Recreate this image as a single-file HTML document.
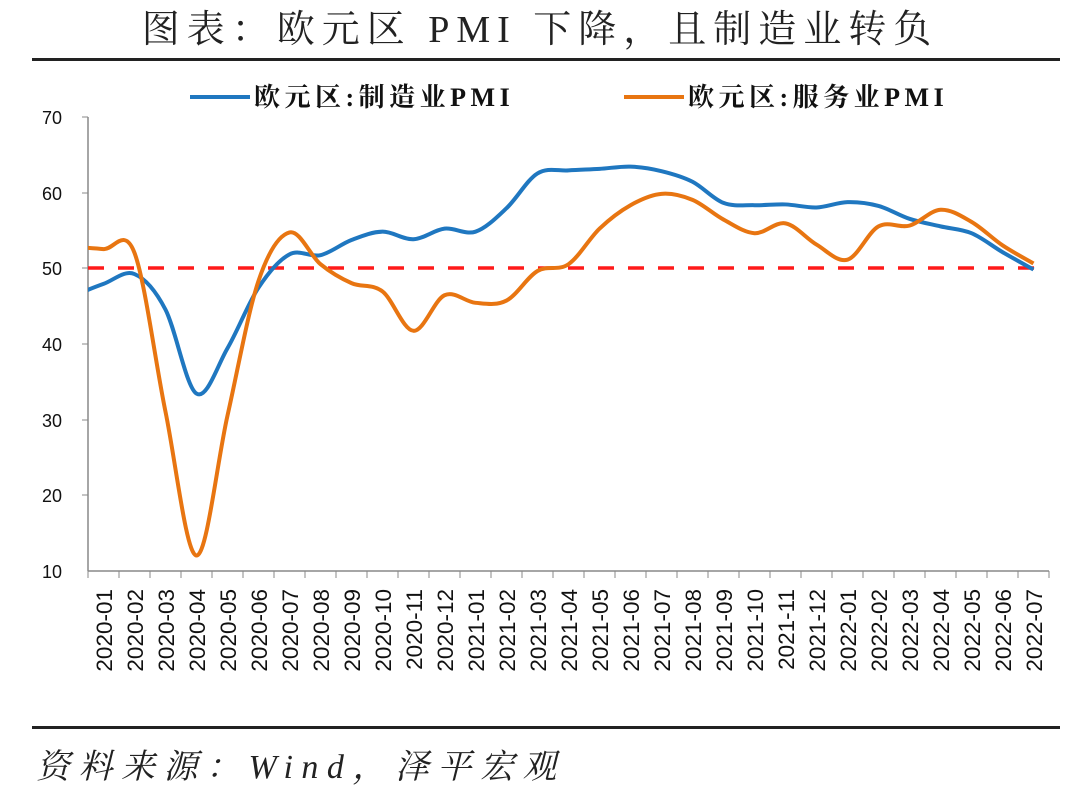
<!DOCTYPE html>
<html><head><meta charset="utf-8"><style>
body{margin:0;background:#fff;width:1080px;height:789px;overflow:hidden;}
svg{display:block}
</style></head><body>
<svg width="1080" height="789" xmlns="http://www.w3.org/2000/svg">
<text x="540" y="42" text-anchor="middle" font-family="Liberation Serif, Noto Serif CJK SC, serif" font-size="38" fill="#222" letter-spacing="7">图表：欧元区 PMI 下降，且制造业转负</text>
<rect x="32" y="58" width="1028" height="3" fill="#222"/>
<rect x="32" y="726" width="1028" height="3" fill="#222"/>
<text x="36" y="778" font-family="Liberation Serif, Noto Serif CJK SC, serif" font-size="34" font-style="italic" fill="#222" letter-spacing="8.5">资料来源：Wind，泽平宏观</text>
<line x1="190" y1="97" x2="250" y2="97" stroke="#1f77c0" stroke-width="4"/>
<text x="254" y="106" font-family="Liberation Serif, Noto Serif CJK SC, serif" font-weight="bold" font-size="26" fill="#111" letter-spacing="4.5">欧元区:制造业PMI</text>
<line x1="624" y1="97" x2="684" y2="97" stroke="#e87511" stroke-width="4"/>
<text x="688" y="106" font-family="Liberation Serif, Noto Serif CJK SC, serif" font-weight="bold" font-size="26" fill="#111" letter-spacing="4.5">欧元区:服务业PMI</text>
<g font-family="Liberation Sans, sans-serif" font-size="18" fill="#111" text-anchor="end">
<text x="62" y="124">70</text><text x="62" y="200">60</text><text x="62" y="275">50</text><text x="62" y="351">40</text><text x="62" y="427">30</text><text x="62" y="502">20</text><text x="62" y="578">10</text>
</g>
<line x1="88" y1="117" x2="88" y2="571" stroke="#888" stroke-width="1.5"/>
<line x1="82" y1="117" x2="88" y2="117" stroke="#888"/>
<line x1="82" y1="193" x2="88" y2="193" stroke="#888"/>
<line x1="82" y1="268" x2="88" y2="268" stroke="#888"/>
<line x1="82" y1="344" x2="88" y2="344" stroke="#888"/>
<line x1="82" y1="420" x2="88" y2="420" stroke="#888"/>
<line x1="82" y1="495" x2="88" y2="495" stroke="#888"/>
<line x1="88" y1="571" x2="1049" y2="571" stroke="#888" stroke-width="1.5"/>
<g id="ticks" stroke="#888"></g>
<g id="labels" font-family="Liberation Sans, sans-serif" font-size="22.5" fill="#111" text-anchor="end">
<text transform="translate(112,589) rotate(-90)">2020-01</text>
<text transform="translate(143,589) rotate(-90)">2020-02</text>
<text transform="translate(174,589) rotate(-90)">2020-03</text>
<text transform="translate(205,589) rotate(-90)">2020-04</text>
<text transform="translate(236,589) rotate(-90)">2020-05</text>
<text transform="translate(267,589) rotate(-90)">2020-06</text>
<text transform="translate(298,589) rotate(-90)">2020-07</text>
<text transform="translate(329,589) rotate(-90)">2020-08</text>
<text transform="translate(360,589) rotate(-90)">2020-09</text>
<text transform="translate(391,589) rotate(-90)">2020-10</text>
<text transform="translate(422,589) rotate(-90)">2020-11</text>
<text transform="translate(453,589) rotate(-90)">2020-12</text>
<text transform="translate(484,589) rotate(-90)">2021-01</text>
<text transform="translate(515,589) rotate(-90)">2021-02</text>
<text transform="translate(546,589) rotate(-90)">2021-03</text>
<text transform="translate(577,589) rotate(-90)">2021-04</text>
<text transform="translate(608,589) rotate(-90)">2021-05</text>
<text transform="translate(639,589) rotate(-90)">2021-06</text>
<text transform="translate(670,589) rotate(-90)">2021-07</text>
<text transform="translate(701,589) rotate(-90)">2021-08</text>
<text transform="translate(732,589) rotate(-90)">2021-09</text>
<text transform="translate(763,589) rotate(-90)">2021-10</text>
<text transform="translate(794,589) rotate(-90)">2021-11</text>
<text transform="translate(825,589) rotate(-90)">2021-12</text>
<text transform="translate(856,589) rotate(-90)">2022-01</text>
<text transform="translate(887,589) rotate(-90)">2022-02</text>
<text transform="translate(918,589) rotate(-90)">2022-03</text>
<text transform="translate(949,589) rotate(-90)">2022-04</text>
<text transform="translate(980,589) rotate(-90)">2022-05</text>
<text transform="translate(1011,589) rotate(-90)">2022-06</text>
<text transform="translate(1042,589) rotate(-90)">2022-07</text>
</g>
<defs><clipPath id="c"><rect x="88" y="100" width="970" height="480"/></clipPath></defs>
<line x1="88" y1="268" x2="1036" y2="268" stroke="#ff1a1a" stroke-width="3.5" stroke-dasharray="16,14"/>
<g clip-path="url(#c)">
<path id="mfg" fill="none" stroke="#1f77c0" stroke-width="4" stroke-linejoin="round"/>
<path id="svc" fill="none" stroke="#e87511" stroke-width="4" stroke-linejoin="round"/>
</g>
</svg>
<script>
var t=document.getElementById('ticks'),s='';
for(var i=0;i<=31;i++){var x=88+31*i;s+='<line x1="'+x+'" y1="571" x2="'+x+'" y2="578"/>';}
t.innerHTML=s;
var mfg=[46.3,47.9,49.2,44.5,33.4,39.4,47.4,51.8,51.7,53.7,54.8,53.8,55.2,54.8,57.9,62.5,62.9,63.1,63.4,62.8,61.4,58.6,58.3,58.4,58.0,58.7,58.2,56.5,55.5,54.6,52.1,49.8];
var svc=[52.8,52.5,52.0,31.0,12.0,30.5,48.3,54.7,50.5,48.0,46.9,41.7,46.4,45.4,45.7,49.6,50.5,55.2,58.3,59.8,59.0,56.4,54.6,55.9,53.1,51.1,55.5,55.6,57.7,56.1,53.0,50.6];
function path(d){
 var p=d.map(function(v,i){return [72.5+31*i,268-(v-50)*7.567];});
 var r='M'+p[0][0]+','+p[0][1];
 for(var i=0;i<p.length-1;i++){
  var p0=p[i-1]||p[i],p1=p[i],p2=p[i+1],p3=p[i+2]||p2,k=1/6;
  r+='C'+(p1[0]+(p2[0]-p0[0])*k)+','+(p1[1]+(p2[1]-p0[1])*k)+' '+(p2[0]-(p3[0]-p1[0])*k)+','+(p2[1]-(p3[1]-p1[1])*k)+' '+p2[0]+','+p2[1];
 }
 return r;
}
document.getElementById('mfg').setAttribute('d',path(mfg));
document.getElementById('svc').setAttribute('d',path(svc));
</script>
</body></html>
